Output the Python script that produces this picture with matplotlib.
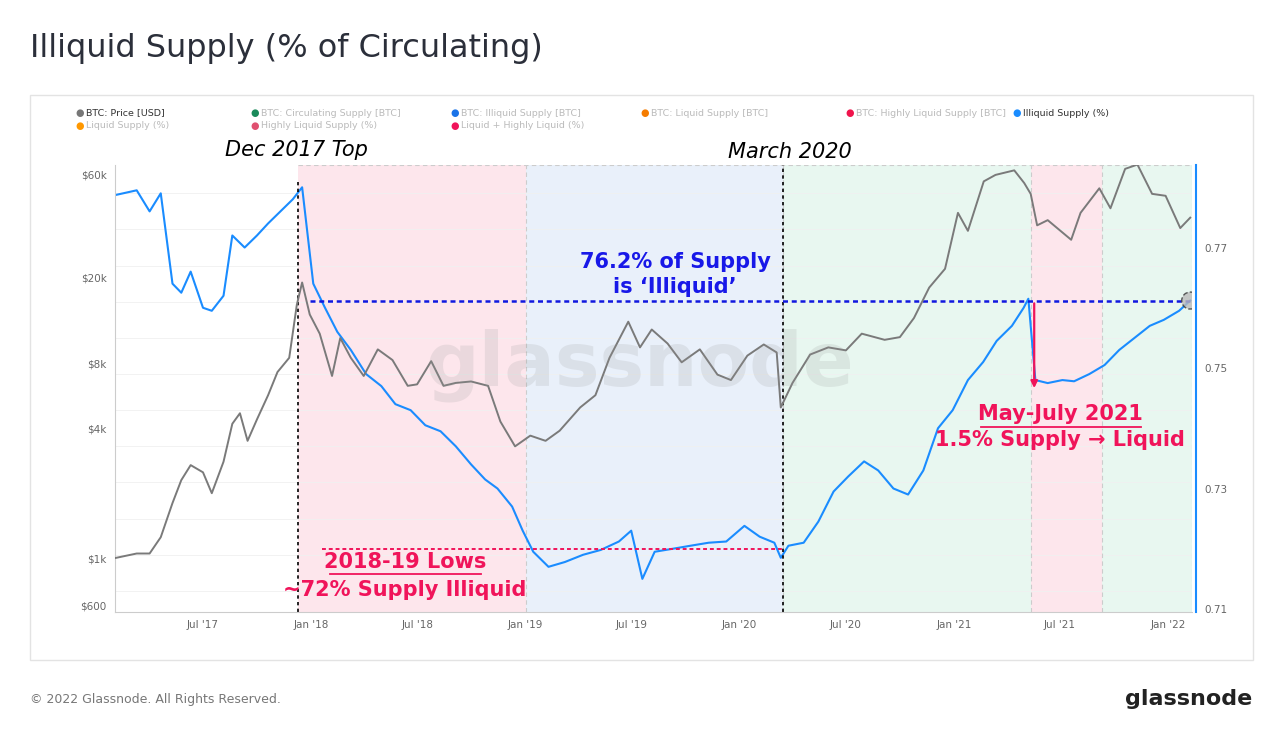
import matplotlib
matplotlib.use("Agg")
import matplotlib.pyplot as plt
import matplotlib.dates as mdates
import numpy as np
import pandas as pd

price_dates = ["2017-02-01","2017-03-10","2017-04-01","2017-04-20","2017-05-10","2017-05-25","2017-06-10","2017-07-01","2017-07-16","2017-08-05","2017-08-20","2017-09-02","2017-09-15","2017-10-01","2017-10-20","2017-11-05","2017-11-25","2017-12-08","2017-12-17","2017-12-30","2018-01-16","2018-02-06","2018-02-20","2018-03-10","2018-04-01","2018-04-25","2018-05-20","2018-06-15","2018-07-01","2018-07-25","2018-08-15","2018-09-05","2018-10-01","2018-10-30","2018-11-20","2018-12-15","2019-01-10","2019-02-05","2019-03-01","2019-04-05","2019-05-01","2019-05-25","2019-06-26","2019-07-16","2019-08-05","2019-09-01","2019-09-25","2019-10-26","2019-11-25","2019-12-18","2020-01-15","2020-02-12","2020-03-05","2020-03-12","2020-04-01","2020-05-01","2020-06-01","2020-07-01","2020-07-28","2020-09-05","2020-10-01","2020-10-25","2020-11-20","2020-12-17","2021-01-08","2021-01-25","2021-02-21","2021-03-13","2021-04-14","2021-05-01","2021-05-12","2021-05-23","2021-06-10","2021-07-20","2021-08-05","2021-09-06","2021-09-25","2021-10-20","2021-11-10","2021-12-05","2021-12-28","2022-01-22","2022-02-08"]
price_usd = [1000,1050,1050,1250,1800,2300,2700,2500,2000,2800,4200,4700,3500,4400,5700,7300,8500,15000,19000,13500,11000,7000,10500,8500,7000,9300,8300,6300,6400,8200,6300,6500,6600,6300,4300,3300,3700,3500,3900,5000,5700,8500,12500,9500,11500,9900,8100,9300,7100,6700,8700,9800,9000,5000,6500,8800,9500,9200,11000,10300,10600,13000,18000,22000,40000,33000,56000,60000,63000,55000,49000,35000,37000,30000,40000,52000,42000,64000,67000,49000,48000,34000,38000]

illiq_dates = ["2017-02-01","2017-03-10","2017-04-01","2017-04-20","2017-05-10","2017-05-25","2017-06-10","2017-07-01","2017-07-16","2017-08-05","2017-08-20","2017-09-10","2017-10-01","2017-10-20","2017-11-10","2017-12-01","2017-12-17","2018-01-05","2018-01-25","2018-02-15","2018-03-10","2018-04-05","2018-05-01","2018-05-25","2018-06-20","2018-07-15","2018-08-10","2018-09-05","2018-10-01","2018-10-25","2018-11-15","2018-12-10","2018-12-28","2019-01-15","2019-02-10","2019-03-10","2019-04-10","2019-05-10","2019-06-10","2019-07-01","2019-07-20","2019-08-10","2019-09-10","2019-10-10","2019-11-10","2019-12-10","2020-01-10","2020-02-05","2020-03-01","2020-03-12","2020-03-25","2020-04-20","2020-05-15","2020-06-10","2020-07-05","2020-08-01","2020-08-25","2020-09-20","2020-10-15","2020-11-10","2020-12-05","2020-12-30","2021-01-25","2021-02-20","2021-03-15","2021-04-10","2021-04-30","2021-05-08","2021-05-20","2021-06-10","2021-07-05","2021-07-25","2021-08-20","2021-09-15","2021-10-10","2021-11-05","2021-12-01","2021-12-25","2022-01-20","2022-02-08"]
illiq_pct = [0.7787,0.7795,0.7760,0.7790,0.7640,0.7625,0.7660,0.7600,0.7595,0.7620,0.7720,0.7700,0.7720,0.7740,0.7760,0.7780,0.7800,0.7640,0.7600,0.7560,0.7530,0.7490,0.7470,0.7440,0.7430,0.7405,0.7395,0.7370,0.7340,0.7315,0.7300,0.7270,0.7230,0.7195,0.7170,0.7178,0.7190,0.7198,0.7212,0.7230,0.7150,0.7195,0.7200,0.7205,0.7210,0.7212,0.7238,0.7220,0.7210,0.7185,0.7205,0.7210,0.7245,0.7295,0.7320,0.7345,0.7330,0.7300,0.7290,0.7330,0.7400,0.7430,0.7480,0.7510,0.7545,0.7570,0.7600,0.7615,0.7480,0.7475,0.7480,0.7478,0.7490,0.7505,0.7530,0.7550,0.7570,0.7580,0.7595,0.7612]

regions = [("2017-12-10","2019-01-03","#fde6ec"),("2019-01-03","2020-03-16","#e9f0fa"),
           ("2020-03-16","2021-05-12","#e8f7f0"),("2021-05-12","2021-09-10","#fde6ec"),
           ("2021-09-10","2022-02-11","#e8f7f0")]

pdts = pd.to_datetime(price_dates)
idts = pd.to_datetime(illiq_dates)

fig = plt.figure(figsize=(12.8, 7.38), dpi=100)
W, H = 1280, 738
def fx(x): return x / W
def fy(y): return 1 - y / H

fig.text(fx(30), fy(48), "Illiquid Supply (% of Circulating)", fontsize=23, color="#2b2f3a", va="center", family="DejaVu Sans")
card = plt.Rectangle((fx(30), fy(660)), fx(1223), (660-95)/H, transform=fig.transFigure, fill=False, ec="#e3e3e3", lw=1)
fig.add_artist(card)
fig.text(fx(30), fy(699), "© 2022 Glassnode. All Rights Reserved.", fontsize=9, color="#777", va="center")
fig.text(fx(1252), fy(699), "glassnode", fontsize=16, color="#222", va="center", ha="right", weight="bold")

legend_items = [
    (75,113,"BTC: Price [USD]","#777777","#333"),
    (250,113,"BTC: Circulating Supply [BTC]","#1a8a5a","#bbb"),
    (450,113,"BTC: Illiquid Supply [BTC]","#1a73e8","#bbb"),
    (640,113,"BTC: Liquid Supply [BTC]","#f57c00","#bbb"),
    (845,113,"BTC: Highly Liquid Supply [BTC]","#f0144c","#bbb"),
    (1012,113,"Illiquid Supply (%)","#1a8cff","#333"),
    (75,126,"Liquid Supply (%)","#ff9800","#bbb"),
    (250,126,"Highly Liquid Supply (%)","#e05070","#bbb"),
    (450,126,"Liquid + Highly Liquid (%)","#f0145a","#bbb"),
]
for x, y, t, c, tc in legend_items:
    fig.text(fx(x), fy(y), "●", color=c, fontsize=7, va="center")
    fig.text(fx(x+11), fy(y), t, color=tc, fontsize=6.8, va="center")

ax = fig.add_axes([fx(115), fy(612), fx(1192-115), (612-165)/H])
ax2 = ax.twinx()
ax.set_zorder(ax2.get_zorder()+1); ax.patch.set_visible(False)

xmin, xmax = pd.Timestamp("2017-02-01"), pd.Timestamp("2022-02-11")
for a, b, c in regions:
    ax2.axvspan(pd.Timestamp(a), pd.Timestamp(b), color=c, zorder=0, lw=0)
    ax2.axvline(pd.Timestamp(b), color="#cccccc", ls=(0,(4,3)), lw=0.8, zorder=1)
d17 = pd.Timestamp("2017-12-10"); m20 = pd.Timestamp("2020-03-16")
frac = (mdates.date2num(d17)-mdates.date2num(xmin))/(mdates.date2num(xmax)-mdates.date2num(xmin))
ax2.axhline(0.7837, xmin=frac, color="#cccccc", ls=(0,(4,3)), lw=0.8)

ax.plot(pdts, price_usd, color="#7a7a7a", lw=1.4, zorder=3)
ax.set_yscale("log")
ax.set_ylim(562, 66700)
ax.set_yticks([600, 1000, 4000, 8000, 20000, 60000])
ax.set_yticklabels(["$600","$1k","$4k","$8k","$20k","$60k"])
ax.yaxis.set_minor_locator(matplotlib.ticker.NullLocator())

ax2.plot(idts, illiq_pct, color="#1a8cff", lw=1.5, zorder=4)
ax2.set_ylim(0.7095, 0.7837)
ax2.set_yticks([0.71, 0.73, 0.75, 0.77])
ax2.set_yticklabels(["0.71","0.73","0.75","0.77"])
for v in np.arange(0.713, 0.784, 0.006):
    ax2.axhline(v, color="#f0f0f0", lw=0.6, zorder=0.5)

ax.set_xlim(xmin, xmax)
ticks = pd.to_datetime(["2017-07-01","2018-01-01","2018-07-01","2019-01-01","2019-07-01","2020-01-01","2020-07-01","2021-01-01","2021-07-01","2022-01-01"])
ax.set_xticks(ticks)
ax.set_xticklabels(["Jul '17","Jan '18","Jul '18","Jan '19","Jul '19","Jan '20","Jul '20","Jan '21","Jul '21","Jan '22"])
for a in (ax, ax2):
    a.tick_params(labelsize=7.5, colors="#666", length=0, pad=6)
    for s in a.spines.values(): s.set_visible(False)
ax.spines["left"].set_visible(True); ax.spines["left"].set_color("#cccccc")
ax.spines["bottom"].set_visible(True); ax.spines["bottom"].set_color("#cccccc")
ax2.spines["right"].set_visible(True); ax2.spines["right"].set_color("#1a8cff"); ax2.spines["right"].set_linewidth(1.5)
ax2.spines["right"].set_position(("outward", 3))

ax2.plot([d17, d17], [0.7095, 0.7812], color="black", ls=(0,(2,2)), lw=1.2, zorder=5, clip_on=False)
ax2.plot([m20, m20], [0.7095, 0.7837], color="black", ls=(0,(2,2)), lw=1.2, zorder=5)
fig.text(fx(225), fy(150), "Dec 2017 Top", fontsize=15, style="italic", va="center")
fig.text(fx(728), fy(152), "March 2020", fontsize=15, style="italic", va="center")

level = illiq_pct[-1]
ax2.plot([pd.Timestamp("2017-12-30"), xmax], [level, level], color="#1018e0", ls=(0,(2,1.5)), lw=1.8, zorder=6)
ax2.scatter([pd.Timestamp(illiq_dates[-1])], [level], s=150, color="#bbbbbb", alpha=0.8, edgecolor="#333", linestyle="--", zorder=7)
fig.text(fx(675), fy(262), "76.2% of Supply", fontsize=15, weight="bold", color="#1818e8", ha="center", va="center")
fig.text(fx(675), fy(287), "is ‘Illiquid’", fontsize=15, weight="bold", color="#1818e8", ha="center", va="center")

ax2.plot([pd.Timestamp("2018-01-20"), m20], [0.7200, 0.7200], color="#f0145a", ls=(0,(2,1.5)), lw=1.4, zorder=6)
fig.text(fx(405), fy(562), "2018-19 Lows", fontsize=15, weight="bold", color="#f0145a", ha="center", va="center")
fig.add_artist(plt.Line2D([fx(330), fx(481)], [fy(574), fy(574)], color="#f0145a", lw=1.3, transform=fig.transFigure))
fig.text(fx(405), fy(590), "~72% Supply Illiquid", fontsize=15, weight="bold", color="#f0145a", ha="center", va="center")

fig.text(fx(1060), fy(414), "May-July 2021", fontsize=15, weight="bold", color="#f0145a", ha="center", va="center")
fig.add_artist(plt.Line2D([fx(981), fx(1141)], [fy(427), fy(427)], color="#f0145a", lw=1.3, transform=fig.transFigure))
fig.text(fx(1060), fy(440), "1.5% Supply → Liquid", fontsize=15, weight="bold", color="#f0145a", ha="center", va="center")
ax2.annotate("", xy=(pd.Timestamp("2021-05-18"), 0.7462), xytext=(pd.Timestamp("2021-05-18"), level),
             arrowprops=dict(arrowstyle="-|>", color="#f0145a", lw=1.6), zorder=8)

fig.text(fx(640), fy(365), "glassnode", fontsize=54, color="#999999", alpha=0.18, ha="center", va="center", weight="bold")

fig.savefig("out.png", dpi=100)
